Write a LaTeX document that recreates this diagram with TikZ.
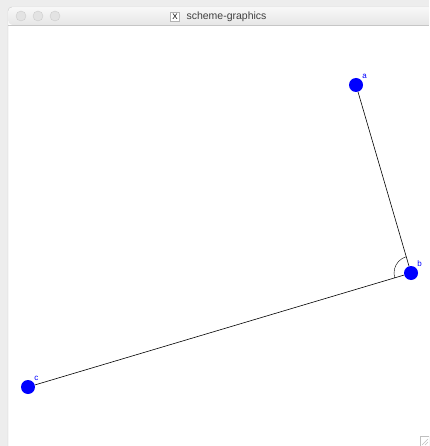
\documentclass[tikz,border=0pt]{standalone}
\usepackage{fontspec}
\setmainfont{Liberation Sans}
\usetikzlibrary{angles}
\definecolor{chrome}{HTML}{EDEDED}

\begin{document}
\begin{tikzpicture}[x=1pt, y=-1pt, every node/.style={font=\fontsize{8}{9}\selectfont},
	vertex/.style={circle, fill=blue, inner sep=0pt, minimum size=14pt},
	tag/.style={text=blue, inner sep=1pt}]
	\useasboundingbox (0,0) rectangle (429,446);
	\clip (0,0) rectangle (429,446);
	% window
	\fill[chrome] (0,0) rectangle (429,446);
	\filldraw[fill=white, draw=gray!45, rounded corners=4pt] (8,7) rectangle (445,460);
	\shade[top color=gray!6, bottom color=gray!20, rounded corners=4pt] (8.5,7.5) rectangle (445,25);
	\draw[gray!45] (8,25) -- (429,25);
	\foreach \x in {21,38,55}
		\filldraw[fill=gray!22, draw=gray!40] (\x,16) circle (5);
	\node[draw=gray!60, fill=white, inner sep=0pt, minimum size=9pt, font=\fontsize{8}{8}\selectfont\rmfamily] (icon) at (175,16.5) {X};
	\node[anchor=west, font=\fontsize{10.5}{12}\selectfont, text=black!75] (title) at (183,16.5) {scheme-graphics};
	\draw[gray!50] (420,436) rectangle (429,446);
	\draw[gray!50] (422,445) -- (428,439) (425,445) -- (428,442);
	% points
	\node[vertex, label={[tag, label distance=0pt]45:a}] (a) at (356,85) {};
	\node[vertex, label={[tag, label distance=0pt]45:b}] (b) at (411,273) {};
	\node[vertex, label={[tag, label distance=0pt]45:c}] (c) at (28,387) {};
	\draw[line width=0.6pt] (a) -- (b) -- (c);
	\pic[draw, angle radius=17pt] {angle = a--b--c};
\end{tikzpicture}
\end{document}
